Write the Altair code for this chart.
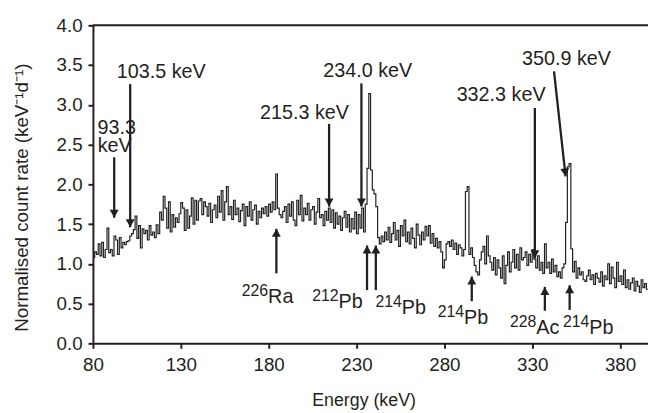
import altair as alt
import pandas as pd

FONT = "Liberation Sans"
INK = "#231f20"

# ---- spectrum: 1 keV bins starting at 80 keV ----
bin_start = list(range(80, 396))
rate = [
    1.08, 1.15, 1.12, 1.25, 1.10, 1.27, 1.08, 1.18, 1.45, 1.14,   # 80
    1.18, 1.10, 1.35, 1.30, 1.12, 1.33, 1.20, 1.27, 1.24, 1.28,   # 90
    1.29, 1.35, 1.38, 1.43, 1.60, 1.32, 1.48, 1.20, 1.44, 1.38,   # 100
    1.42, 1.30, 1.48, 1.36, 1.40, 1.33, 1.49, 1.38, 1.65, 1.55,   # 110
    1.85, 1.70, 1.45, 1.78, 1.40, 1.62, 1.46, 1.58, 1.52, 1.63,   # 120
    1.77, 1.70, 1.42, 1.68, 1.45, 1.60, 1.83, 1.50, 1.80, 1.55,   # 130
    1.79, 1.82, 1.62, 1.78, 1.72, 1.60, 1.76, 1.52, 1.68, 1.74,   # 140
    1.58, 1.85, 1.65, 1.92, 1.55, 1.78, 1.97, 1.62, 1.72, 1.56,   # 150
    1.80, 1.62, 1.70, 1.53, 1.67, 1.75, 1.48, 1.72, 1.60, 1.78,   # 160
    1.55, 1.68, 1.74, 1.50, 1.66, 1.58, 1.70, 1.63, 1.72, 1.60,   # 170
    1.75, 1.65, 1.78, 1.68, 2.13, 1.70, 1.62, 1.58, 1.66, 1.72,   # 180
    1.52, 1.75, 1.60, 1.78, 1.55, 1.48, 1.80, 1.62, 1.86, 1.54,   # 190
    1.70, 1.62, 1.76, 1.55, 1.68, 1.72, 1.50, 1.65, 1.82, 1.58,   # 200
    1.62, 1.48, 1.66, 1.55, 1.70, 1.52, 1.68, 1.45, 1.64, 1.50,   # 210
    1.60, 1.42, 1.58, 1.66, 1.46, 1.62, 1.40, 1.57, 1.44, 1.65,   # 220
    1.38, 1.62, 1.45, 1.70, 1.40, 1.75, 2.20, 3.14, 2.18, 1.93,   # 230
    1.88, 1.72, 1.33, 1.25, 1.35, 1.28, 1.40, 1.30, 1.46, 1.27,   # 240
    1.38, 1.52, 1.30, 1.42, 1.22, 1.48, 1.35, 1.55, 1.28, 1.40,   # 250
    1.25, 1.45, 1.32, 1.20, 1.50, 1.36, 1.24, 1.40, 1.30, 1.47,   # 260
    1.35, 1.48, 1.26, 1.38, 1.22, 1.32, 1.20, 1.28, 1.15, 0.95,   # 270
    1.05, 1.25, 1.28, 1.22, 1.30, 1.18, 1.26, 1.12, 1.24, 1.20,   # 280
    1.10, 1.18, 1.91, 1.97, 1.12, 1.20, 1.08, 0.98, 0.90, 0.86,   # 290
    1.05, 1.15, 1.22, 1.00, 1.35, 1.10, 1.02, 0.92, 1.08, 0.86,   # 300
    1.05, 0.95, 0.82, 1.10, 0.75, 0.98, 1.15, 0.90, 1.02, 1.18,   # 310
    0.95, 1.12, 0.92, 1.20, 1.05, 1.08, 1.15, 0.98, 1.12, 1.02,   # 320
    1.18, 1.06, 0.95, 1.10, 0.92, 1.02, 0.88, 1.25, 0.95, 1.02,   # 330
    0.88, 1.06, 0.90, 0.98, 0.84, 0.90, 0.82, 0.95, 1.00, 1.52,   # 340
    2.22, 2.26, 1.19, 0.90, 1.03, 0.82, 0.95, 0.86, 0.90, 0.80,   # 350
    0.78, 0.85, 0.92, 0.80, 0.86, 0.74, 0.88, 0.82, 0.77, 0.90,   # 360
    0.72, 0.85, 0.80, 1.00, 0.75, 0.96, 0.82, 0.70, 1.02, 0.78,   # 370
    0.85, 0.74, 0.92, 0.70, 0.80, 0.68, 0.76, 0.82, 0.66, 0.78,   # 380
    0.72, 0.64, 0.80, 0.70, 0.75, 0.68,                           # 390
]

x_ticks = [80, 130, 180, 230, 280, 330, 380]
y_ticks = [0.0, 0.5, 1.0, 1.5, 2.0, 2.5, 3.0, 3.5, 4.0]
x_domain = [80, 395.9]
y_domain = [0, 4]

# ---- peak labels (top) ----
peak_text = ["93.3", "keV", "103.5 keV", "215.3 keV", "234.0 keV", "332.3 keV", "350.9 keV"]
peak_text_x = [93.6, 92.4, 118.9, 200.4, 236.4, 312.3, 349.5]
peak_text_y = [2.71, 2.48, 3.41, 2.90, 3.42, 3.12, 3.58]

# downward arrows: start (x0,y0) -> tip (x1,y1)
down_x0 = [92.1, 101.2, 214.4, 232.8, 331.5, 342.4]
down_x1 = [92.1, 101.2, 214.4, 232.8, 331.5, 349.0]
down_y0 = [2.34, 3.26, 2.76, 3.27, 2.96, 3.42]
down_y1 = [1.58, 1.46, 1.72, 1.72, 1.07, 2.10]
down_angle = [0, 0, 0, 0, 0, 353.7]

# upward arrows (isotopes)
up_x = [184.4, 236.0, 241.0, 295.6, 337.2, 351.3]
up_y0 = [0.88, 0.67, 0.67, 0.53, 0.41, 0.42]
up_y1 = [1.44, 1.23, 1.23, 0.84, 0.71, 0.73]

iso_mass = ["226", "212", "214", "214", "228", "214"]
iso_elem = ["Ra", "Pb", "Pb", "Pb", "Ac", "Pb"]
iso_x = [179.7, 219.8, 255.8, 291.2, 332.3, 362.5]
iso_y = [0.51, 0.44, 0.37, 0.245, 0.12, 0.12]

# ---- tables ----
spec = pd.DataFrame({"E": bin_start + [bin_start[-1] + 1], "v": rate + [rate[-1]]})
peaks = pd.DataFrame({"t": peak_text, "x": peak_text_x, "y": peak_text_y})
downs = pd.DataFrame({"x0": down_x0, "x1": down_x1, "y0": down_y0, "y1": down_y1, "a": down_angle})
ups = pd.DataFrame({"x": up_x, "y0": up_y0, "y1": up_y1})
isos = pd.DataFrame({"m": iso_mass, "e": iso_elem, "x": iso_x, "y": iso_y})
tops = pd.DataFrame({"y": [y_domain[1]]})

xs = alt.Scale(domain=x_domain, nice=False, zero=False)
ys = alt.Scale(domain=y_domain, nice=False, zero=False)

x_axis = alt.Axis(values=x_ticks, title="Energy (keV)", grid=False, labelFontSize=19,
                  titleFontSize=18, titleFontWeight="normal", tickSize=5, labelPadding=7,
                  domainWidth=2, tickWidth=2, domainColor=INK, tickColor=INK,
                  labelColor=INK, titleColor=INK, titleX=274, titleY=58,
                  titleBaseline="middle", labelFont=FONT, titleFont=FONT,
                  labelFlush=False, labelOverlap=False)
y_axis = alt.Axis(values=y_ticks, format=".1f", title="Normalised count rate (keV⁻¹d⁻¹)",
                  grid=False, labelFontSize=19, titleFontSize=19, titleFontWeight="normal",
                  tickSize=5, labelPadding=6, domainWidth=2, tickWidth=2, domainColor=INK,
                  tickColor=INK, labelColor=INK, titleColor=INK, titleX=-72, titleY=174,
                  titleAngle=-90, titleAlign="center", titleBaseline="middle",
                  labelFont=FONT, titleFont=FONT, labelFlush=False, labelOverlap=False)


def X(field):
    return alt.X(field, scale=xs, axis=x_axis)


def Y(field):
    return alt.Y(field, scale=ys, axis=y_axis)


line = alt.Chart(spec).mark_line(interpolate="step-after", color=INK, strokeWidth=1.2, clip=True).encode(
    x=X("E:Q"), y=Y("v:Q"))

top_rule = alt.Chart(tops).mark_rule(color=INK, strokeWidth=2).encode(y=Y("y:Q"))

ptxt = alt.Chart(peaks).mark_text(font=FONT, fontSize=20, color=INK, align="center", baseline="middle").encode(
    x=X("x:Q"), y=Y("y:Q"), text="t:N")

down_head = "M0,0L-0.75,-1.35L0.75,-1.35Z"
up_head = "M0,0L-0.75,1.35L0.75,1.35Z"

drule = alt.Chart(downs).mark_rule(color=INK, strokeWidth=2.3).encode(
    x=X("x0:Q"), x2="x1:Q", y=Y("y0:Q"), y2="y1:Q")
dhead = alt.Chart(downs).mark_point(shape=down_head, filled=True, size=144, color=INK, opacity=1, strokeWidth=0).encode(
    x=X("x1:Q"), y=Y("y1:Q"), angle=alt.Angle("a:Q", scale=None))

urule = alt.Chart(ups).mark_rule(color=INK, strokeWidth=2.3).encode(
    x=X("x:Q"), y=Y("y0:Q"), y2="y1:Q")
uhead = alt.Chart(ups).mark_point(shape=up_head, filled=True, size=144, color=INK, opacity=1, strokeWidth=0).encode(
    x=X("x:Q"), y=Y("y1:Q"))

mass_txt = alt.Chart(isos).mark_text(font=FONT, fontSize=16, color=INK, align="right", baseline="alphabetic", dy=-7).encode(
    x=X("x:Q"), y=Y("y:Q"), text="m:N")
elem_txt = alt.Chart(isos).mark_text(font=FONT, fontSize=20, color=INK, align="left", baseline="alphabetic").encode(
    x=X("x:Q"), y=Y("y:Q"), text="e:N")

chart = alt.layer(line, top_rule, drule, dhead, urule, uhead, ptxt, mass_txt, elem_txt).properties(
    width=562, height=322, autosize="none",
    padding={"left": 86, "top": 15, "right": 0, "bottom": 68},
).configure(font=FONT, background="white").configure_view(stroke=None)

chart.save("out.html", embed_options={"renderer": "svg", "actions": False})
